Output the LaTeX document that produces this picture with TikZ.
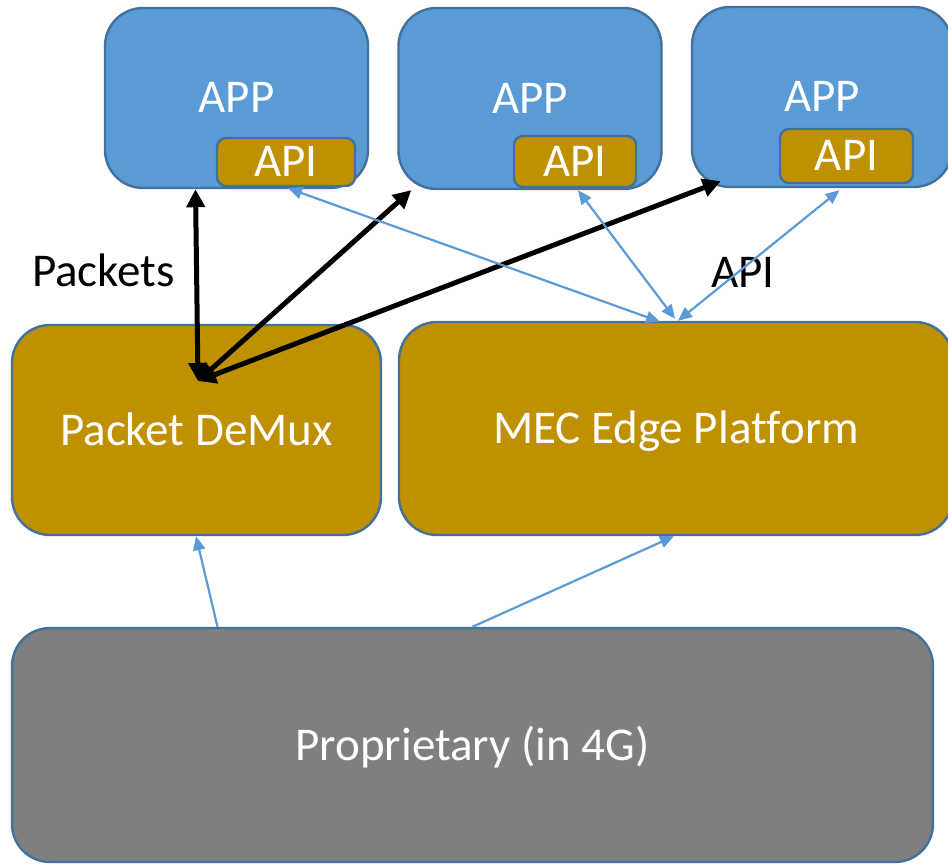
\documentclass[tikz,border=0pt]{standalone}
\usepackage{fontspec}
\setmainfont{Carlito}[Ligatures=NoCommon]
\usepackage{xcolor}
\usetikzlibrary{arrows.meta}

\definecolor{appblue}{HTML}{5B9BD5}
\definecolor{edgeblue}{HTML}{41719C}
\definecolor{apigold}{HTML}{BF9000}
\definecolor{propgray}{HTML}{7F7F7F}

\begin{document}
\begin{tikzpicture}[x=1pt, y=-1pt,
    box/.style={draw=edgeblue, line width=2.4pt, rounded corners=38pt, text=white,
        font=\fontsize{47}{56}\selectfont, text height=30pt, text depth=0pt, inner sep=0pt},
    appbox/.style={box, fill=appblue},
    goldbox/.style={box, fill=apigold},
    apibox/.style={box, fill=apigold, rounded corners=9pt},
    tag/.style={font=\fontsize{47}{56}\selectfont, text height=30pt, text depth=0pt, inner sep=0pt},
    pkt/.style={line width=5pt, {Triangle[length=18pt,width=18pt]}-{Triangle[length=18pt,width=18pt]}},
    ctl/.style={draw=appblue, line width=2.2pt, {Triangle[length=14pt,width=12pt]}-{Triangle[length=14pt,width=12pt]}},
    up/.style={draw=appblue, line width=2.2pt, -{Triangle[length=14pt,width=12pt]}}]
    \clip (0, 0) rectangle (948, 864); % page size

    \node[appbox, minimum width=263pt, minimum height=180pt] (app1) at (236.5, 98) {APP};
    \node[appbox, minimum width=263pt, minimum height=181pt] (app2) at (530, 98.5) {APP};
    \node[appbox, minimum width=260pt, minimum height=180pt] (app3) at (822, 97) {APP};
    \node[apibox, minimum width=138pt, minimum height=48pt] (api1) at (286, 162) {API};
    \node[apibox, minimum width=122pt, minimum height=51pt] (api2) at (575, 161.5) {API};
    \node[apibox, minimum width=133pt, minimum height=54pt] (api3) at (846.5, 156) {API};

    \node[goldbox, minimum width=369pt, minimum height=210pt] (demux) at (196.5, 430) {Packet DeMux};
    \node[goldbox, minimum width=554pt, minimum height=213pt] (mec) at (676, 428.5) {MEC Edge Platform};
    \node[box, fill=propgray, minimum width=921pt, minimum height=234pt] (prop) at (472.5, 745) {Proprietary (in 4G)};

    \node[tag] (pkts) at (103.5, 271.5) {Packets};
    \node[tag] (apitag) at (743, 272) {API};

    \coordinate (hub) at (198, 381);
    \draw[pkt] (hub) to ([xshift=-41pt]app1.south);
    \draw[pkt] (hub) to ([xshift=14pt]app2.south west);
    \draw[pkt] (hub) to ([xshift=30pt, yshift=7pt]app3.south west);

    \draw[ctl] ([xshift=2pt, yshift=-1pt]api1.south) to ([xshift=-16pt, yshift=-1pt]mec.north);
    \draw[ctl] ([xshift=3pt, yshift=-2pt]api2.south) to ([xshift=-1pt, yshift=2pt]mec.north);
    \draw[ctl] ([xshift=-7pt, yshift=-6pt]api3.south) to ([xshift=2pt]mec.north);

    \draw[up] ([xshift=-255pt]prop.north) to ([xshift=-0.5pt]demux.south);
    \draw[up] (prop.north) to ([xshift=-2pt]mec.south);
\end{tikzpicture}
\end{document}
